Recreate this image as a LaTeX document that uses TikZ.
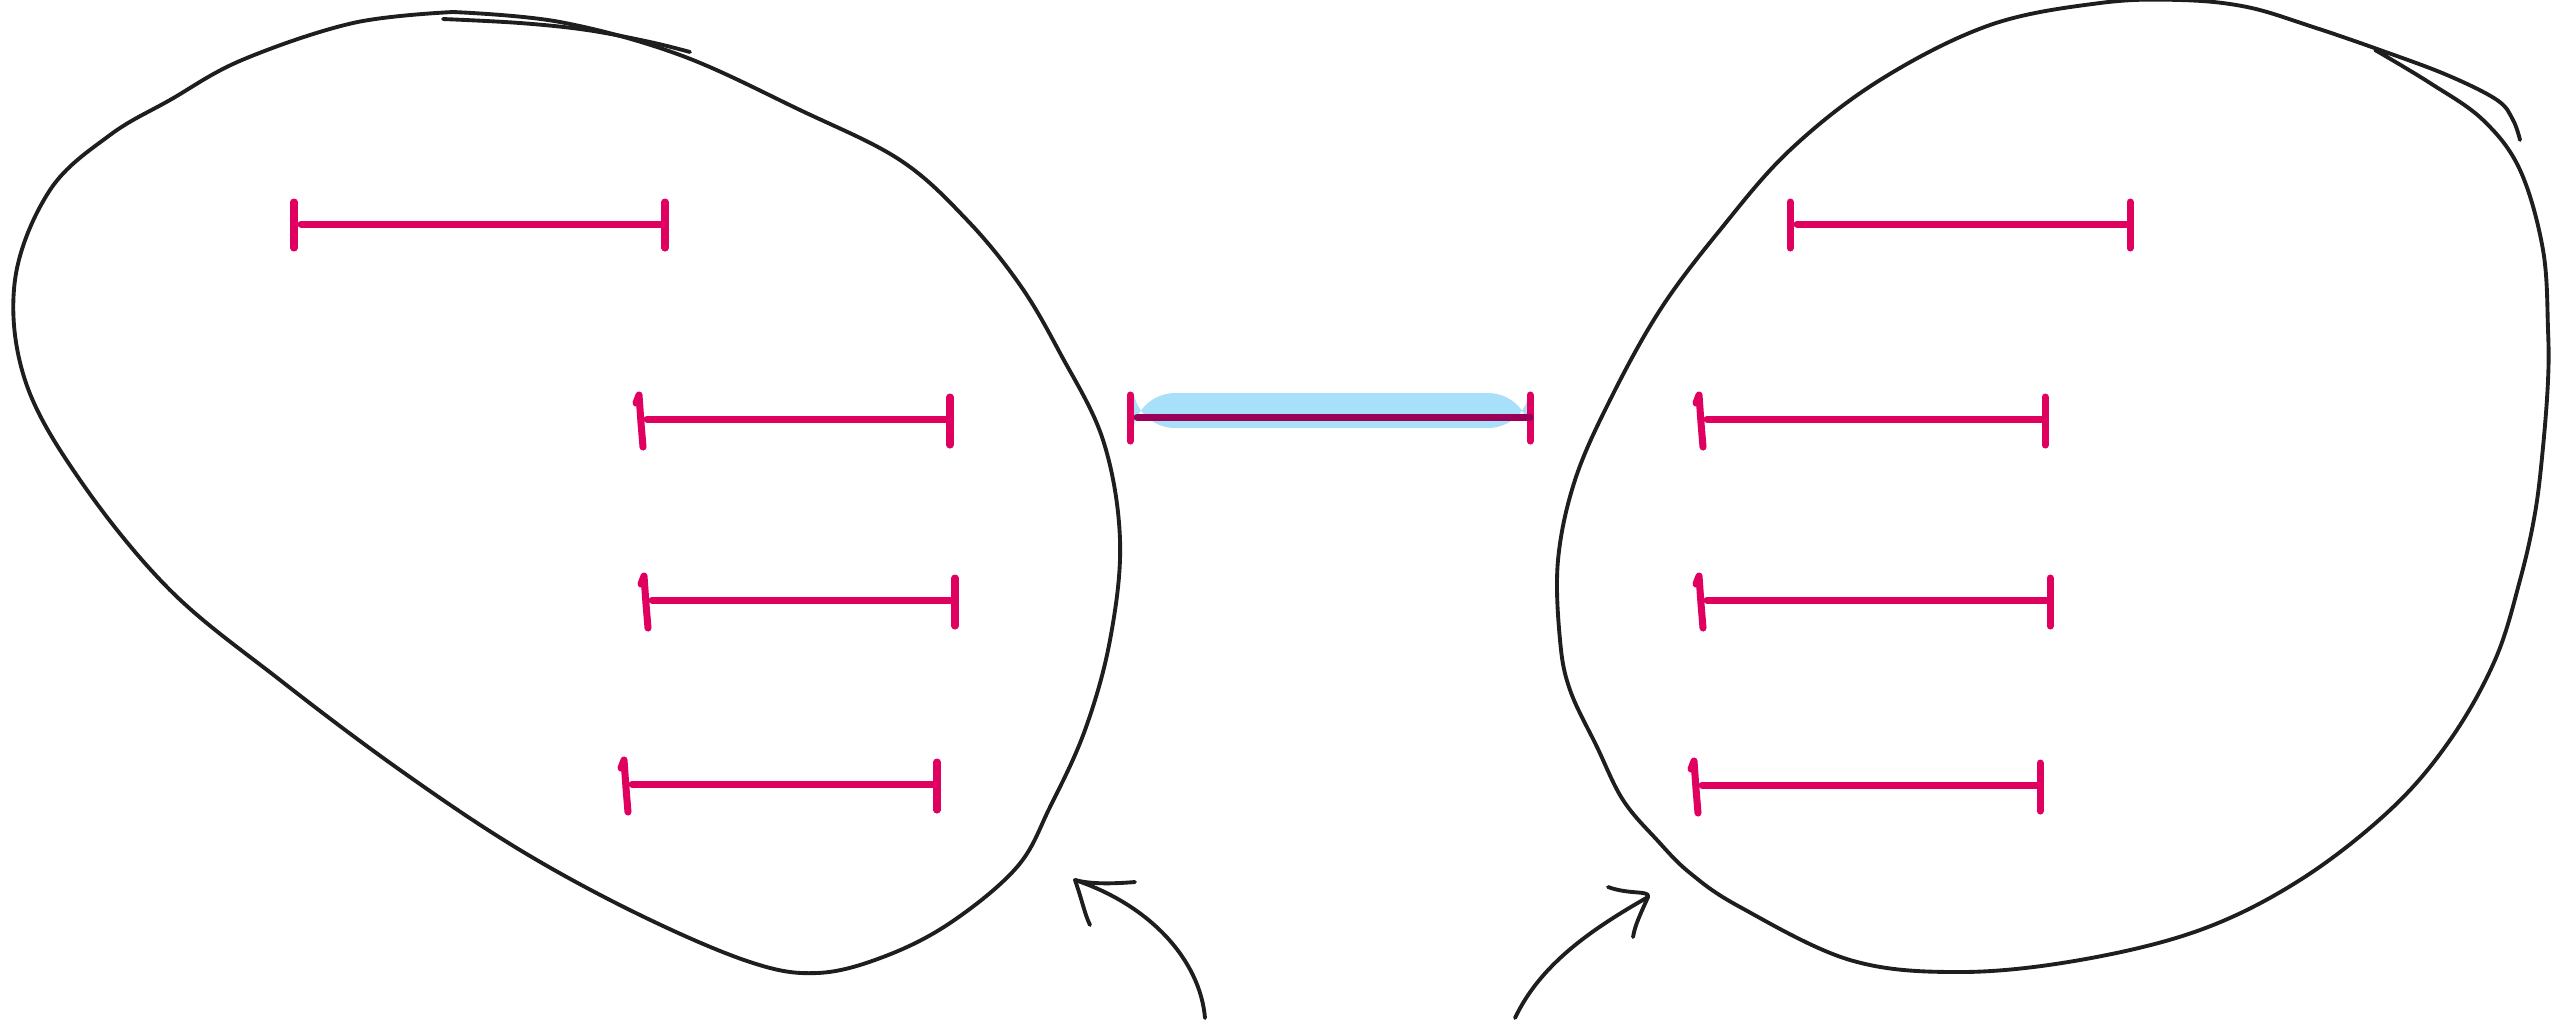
\documentclass[tikz,border=0pt]{standalone}
\definecolor{ink}{HTML}{1E1E1E}
\definecolor{redI}{HTML}{E00060}
\definecolor{hl}{HTML}{A8E0FA}
\definecolor{darkI}{HTML}{9A0058}
% interval: name, left x, right x, y, bar colour
\newcommand\myival[5]{%
  \coordinate (#1l) at (#2,#4);
  \coordinate (#1r) at (#3,#4);
  \draw[ibar] (#2,{#4-22}) -- (#2,{#4+24});
  \draw[ibar] (#3,{#4-22}) -- (#3,{#4+24});
  \draw[ibar,draw=#5] ([xshift=2pt]#1l) -- (#1r);
}
% interval whose left tick is hand-drawn with a slight hook and slant
\newcommand\myivalh[5]{%
  \coordinate (#1l) at (#2,#4);
  \coordinate (#1r) at (#3,#4);
  \draw[ibar] ({#2-4},{#4-16}) -- ({#2-1},{#4-24}) -- ({#2+1},{#4+4}) -- ({#2+3},{#4+28});
  \draw[ibar] (#3,{#4-22}) -- (#3,{#4+26});
  \draw[ibar,draw=#5] ([xshift=2pt]#1l) -- (#1r);
}
\begin{document}
\begin{tikzpicture}[x=0.01cm,y=-0.01cm,
  blob/.style={draw=ink,line width=1.1pt,line cap=round,line join=round},
  ibar/.style={draw=redI,line width=2pt,line cap=round,line join=round}]
\useasboundingbox (0,0) rectangle (2564,1023);
% left blob
\draw[blob] plot[smooth,tension=0.6] coordinates {
 (690,52) (650,42) (587,30) (520,23) (443,19)};
\draw[blob] plot[smooth,tension=0.6] coordinates {
 (453,12) (560,22) (680,55) (800,110) (900,160) (967,220) (1020,285) (1060,353)
 (1103,440) (1120,540) (1110,640) (1085,730) (1050,807) (1017,867) (950,923)
 (883,957) (817,973) (750,962) (640,915) (520,850) (400,770) (280,680) (170,590)
 (80,480) (25,380) (15,280) (50,190) (110,135) (170,100) (242,60) (353,23) (453,12)};
% right blob
\draw[blob] plot[smooth,tension=0.6] coordinates {
 (2375,50) (2430,83) (2483,120) (2520,170) (2543,250) (2548,330) (2548,380)
 (2543,447) (2535,513) (2520,580) (2495,660) (2450,740) (2390,810) (2300,880)
 (2200,930) (2080,960) (1960,972) (1850,960) (1740,907) (1690,873) (1657,840)
 (1623,800) (1597,747) (1570,690) (1560,640) (1558,560) (1575,480) (1610,400)
 (1660,310) (1720,230) (1790,150) (1880,80) (1990,25) (2100,3) (2180,0)
 (2247,7) (2313,27) (2380,50) (2447,75) (2497,100) (2513,120) (2520,140)};
% middle highlight
\fill[hl,rounded corners=12] (1133,393) rectangle (1530,428);
% intervals
\myival{a}{294}{665}{224}{redI}
\myivalh{b}{640}{950}{419}{redI}
\myivalh{c}{645}{955}{600}{redI}
\myivalh{d}{625}{937}{784}{redI}
\myival{m}{1130}{1530}{417}{darkI}
\myival{e}{1790}{2130}{224}{redI}
\myivalh{f}{1700}{2045}{419}{redI}
\myivalh{g}{1700}{2050}{600}{redI}
\myivalh{h}{1695}{2040}{785}{redI}
% arrows
\coordinate (rt) at (1515,1018);
\coordinate (rh) at (1648,897);
\draw[blob] (rt) .. controls (1540,965) and (1590,930) .. (rh);
\draw[blob] (1608,887) .. controls (1630,895) and (1650,890) .. (rh) .. controls (1640,915) and (1635,925) .. (1633,937);
\coordinate (lt) at (1205,1018);
\coordinate (lh) at (1075,880);
\draw[blob] (lt) .. controls (1200,960) and (1150,905) .. (lh);
\draw[blob] (1135,882) .. controls (1110,884) and (1090,884) .. (lh) .. controls (1082,900) and (1085,915) .. (1090,925);
\end{tikzpicture}
\end{document}
